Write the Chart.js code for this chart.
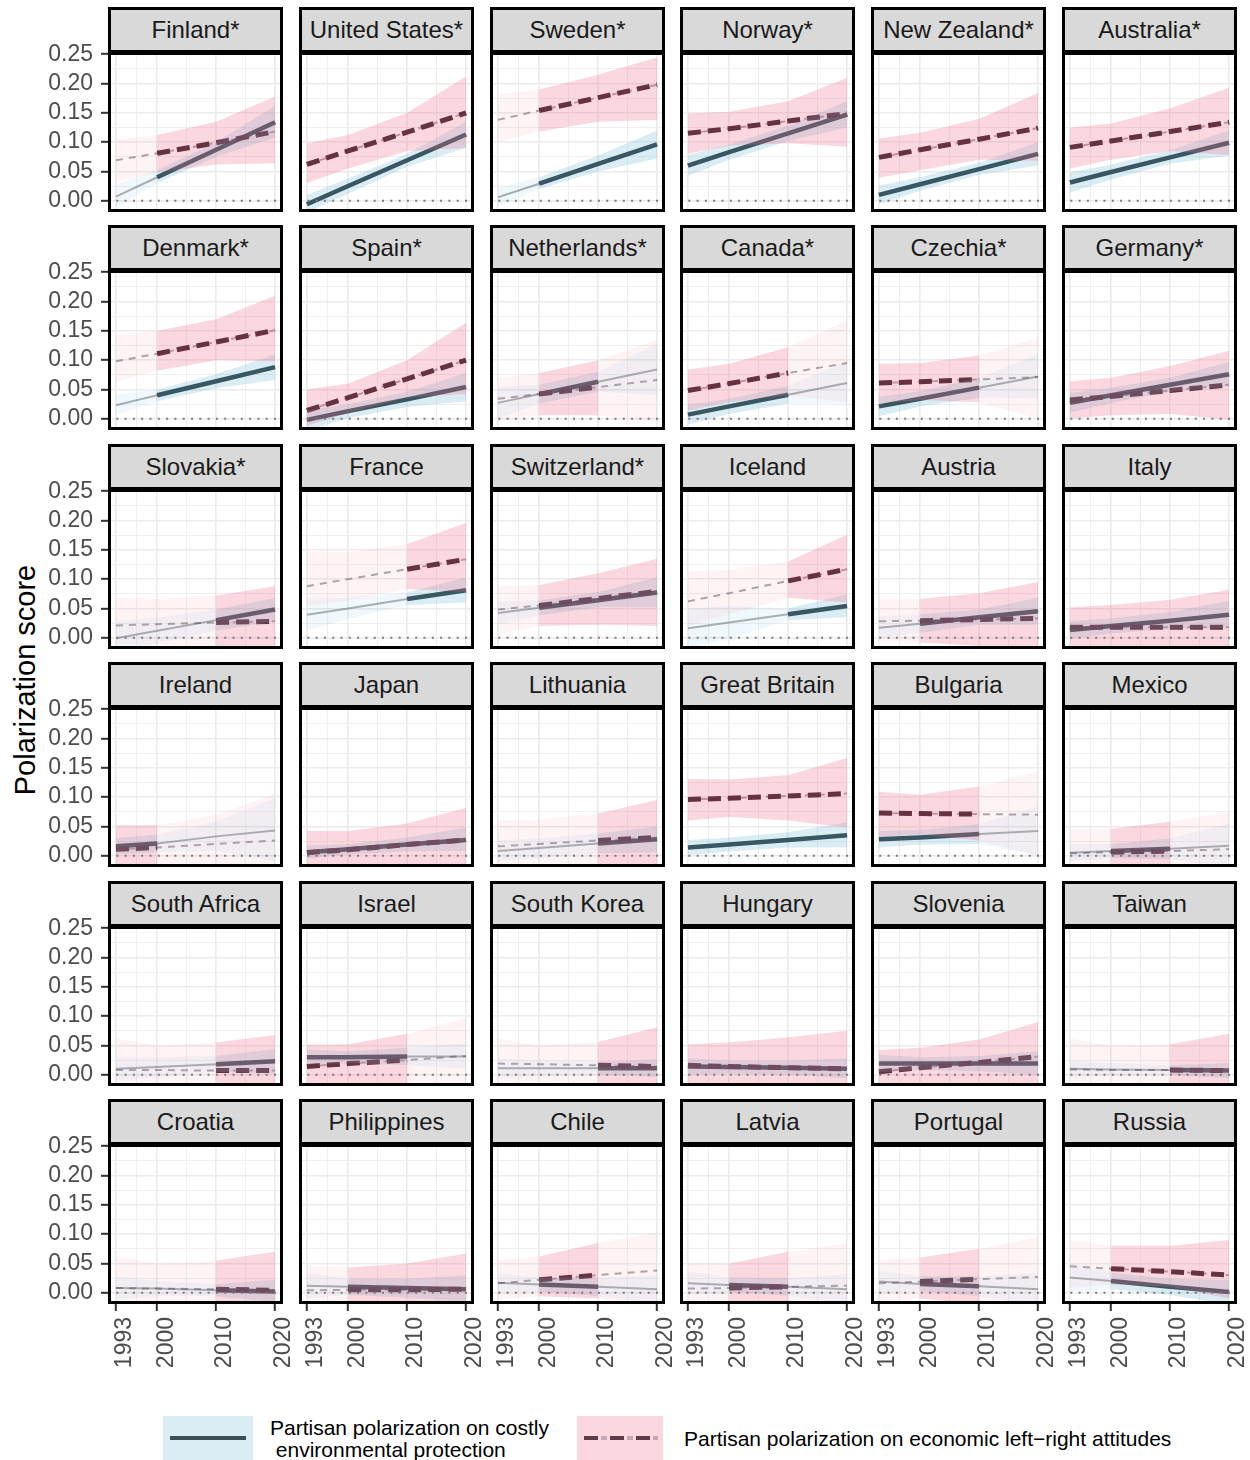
<!DOCTYPE html>
<html><head><meta charset="utf-8">
<script src="https://cdn.jsdelivr.net/npm/chart.js@4.4.1/dist/chart.umd.min.js"></script>
<style>
html,body{margin:0;padding:0;background:#fff;}
body{width:1250px;height:1460px;position:relative;overflow:hidden;font-family:"Liberation Sans",Arial,sans-serif;}
.strip{position:absolute;box-sizing:border-box;background:#d9d9d9;border:3px solid #000;color:#1a1a1a;font-size:24px;display:flex;align-items:center;justify-content:center;white-space:nowrap;}
canvas.cv{position:absolute;}
.ytitle{position:absolute;left:25px;top:680px;transform:translate(-50%,-50%) rotate(-90deg);font-size:29px;color:#000;white-space:nowrap;}
.key{position:absolute;}
.ltext{position:absolute;font-size:21px;color:#000;white-space:pre;line-height:22px;}
</style></head><body>
<div class="ytitle">Polarization score</div>
<script>
const COUNTRIES = ["Finland*","United States*","Sweden*","Norway*","New Zealand*","Australia*",
"Denmark*","Spain*","Netherlands*","Canada*","Czechia*","Germany*",
"Slovakia*","France","Switzerland*","Iceland","Austria","Italy",
"Ireland","Japan","Lithuania","Great Britain","Bulgaria","Mexico",
"South Africa","Israel","South Korea","Hungary","Slovenia","Taiwan",
"Croatia","Philippines","Chile","Latvia","Portugal","Russia"];

const OBS_START = [2000,1993,2000,1993,1993,1993, 2000,1993,2000,1993,1993,1993,
2010,2010,2000,2010,2000,1993, 1993,1993,2010,1993,1993,2000,
2010,1993,2010,1993,1993,2010, 2010,2000,2000,2000,2000,2000];
const OBS_END = [2020,2020,2020,2020,2020,2020, 2020,2020,2010,2010,2010,2020,
2020,2020,2020,2020,2020,2020, 2000,2020,2020,2020,2010,2010,
2020,2010,2020,2020,2020,2020, 2020,2020,2010,2010,2010,2020];

const YEARS = [1993, 2000, 2010, 2020];

const ENV_FIT = [
[0.007,0.040,0.087,0.134],[-0.006,0.025,0.069,0.113],[0.006,0.029,0.063,0.096],[0.060,0.083,0.115,0.147],[0.010,0.028,0.054,0.080],[0.031,0.049,0.074,0.099],
[0.023,0.040,0.064,0.088],[-0.002,0.013,0.033,0.054],[0.027,0.042,0.063,0.084],[0.007,0.021,0.041,0.061],[0.021,0.034,0.053,0.072],[0.027,0.040,0.058,0.076],
[-0.001,0.012,0.030,0.048],[0.039,0.050,0.066,0.081],[0.042,0.051,0.064,0.077],[0.016,0.026,0.040,0.054],[0.017,0.024,0.035,0.045],[0.013,0.020,0.029,0.039],
[0.016,0.021,0.033,0.043],[0.006,0.011,0.019,0.027],[0.008,0.013,0.021,0.028],[0.014,0.019,0.027,0.035],[0.028,0.031,0.037,0.042],[0.005,0.008,0.012,0.017],
[0.010,0.013,0.018,0.023],[0.030,0.030,0.031,0.031],[0.011,0.011,0.011,0.011],[0.014,0.013,0.012,0.010],[0.019,0.019,0.019,0.019],[0.010,0.009,0.008,0.007],
[0.008,0.007,0.004,0.002],[0.012,0.010,0.008,0.006],[0.017,0.014,0.010,0.006],[0.016,0.013,0.010,0.006],[0.019,0.015,0.011,0.006],[0.026,0.020,0.010,0.001]];
const ENV_LO = [
[-0.012,0.030,0.075,0.108],[-0.020,0.012,0.058,0.090],[-0.010,0.020,0.050,0.072],[0.042,0.070,0.102,0.125],[-0.006,0.017,0.044,0.060],[0.014,0.036,0.063,0.077],
[0.006,0.030,0.052,0.066],[-0.020,0.001,0.020,0.030],[0.000,0.026,0.046,0.040],[-0.010,0.008,0.026,0.025],[0.004,0.021,0.036,0.035],[0.010,0.027,0.046,0.055],
[-0.030,-0.010,0.012,0.028],[0.012,0.032,0.056,0.060],[0.022,0.038,0.052,0.052],[-0.018,-0.002,0.030,0.035],[0.000,0.008,0.022,0.022],[-0.002,0.007,0.015,0.016],
[0.002,0.006,0.008,-0.010],[-0.005,0.002,0.007,0.008],[-0.010,-0.004,0.004,0.006],[0.001,0.007,0.014,0.014],[0.014,0.019,0.020,0.000],[-0.010,-0.004,-0.006,-0.020],
[-0.010,-0.004,0.005,0.002],[0.018,0.020,0.016,0.010],[-0.006,-0.002,0.000,-0.004],[0.000,0.002,0.000,-0.006],[0.004,0.008,0.006,0.000],[-0.004,-0.002,0.000,-0.006],
[-0.012,-0.006,-0.006,-0.016],[-0.010,-0.004,-0.008,-0.016],[0.000,0.002,-0.006,-0.018],[-0.004,0.001,-0.005,-0.020],[0.000,0.003,-0.006,-0.022],[0.002,0.006,-0.004,-0.020]];
const ENV_HI = [
[0.028,0.052,0.100,0.162],[0.010,0.038,0.080,0.135],[0.022,0.040,0.077,0.120],[0.078,0.096,0.128,0.170],[0.026,0.040,0.065,0.100],[0.048,0.062,0.086,0.120],
[0.040,0.050,0.076,0.110],[0.014,0.025,0.046,0.078],[0.054,0.058,0.080,0.128],[0.024,0.034,0.056,0.098],[0.038,0.047,0.070,0.110],[0.044,0.053,0.070,0.097],
[0.028,0.034,0.048,0.068],[0.066,0.068,0.077,0.103],[0.062,0.064,0.078,0.103],[0.050,0.054,0.050,0.074],[0.036,0.040,0.048,0.068],[0.028,0.033,0.044,0.063],
[0.030,0.036,0.058,0.098],[0.017,0.020,0.031,0.048],[0.026,0.030,0.038,0.050],[0.027,0.031,0.040,0.057],[0.042,0.044,0.054,0.084],[0.020,0.020,0.030,0.055],
[0.030,0.030,0.032,0.044],[0.043,0.040,0.046,0.054],[0.028,0.024,0.022,0.026],[0.028,0.024,0.024,0.028],[0.034,0.030,0.032,0.040],[0.024,0.020,0.016,0.020],
[0.028,0.020,0.015,0.022],[0.034,0.024,0.024,0.030],[0.034,0.026,0.026,0.030],[0.036,0.026,0.025,0.032],[0.038,0.028,0.028,0.034],[0.050,0.034,0.024,0.022]];

const ECO_FIT = [
[0.069,0.081,0.099,0.118],[0.062,0.085,0.117,0.150],[0.138,0.154,0.176,0.198],[0.115,0.123,0.136,0.149],[0.074,0.087,0.105,0.124],[0.091,0.102,0.118,0.134],
[0.098,0.111,0.131,0.151],[0.014,0.036,0.068,0.100],[0.034,0.042,0.054,0.066],[0.048,0.060,0.078,0.095],[0.061,0.063,0.067,0.071],[0.032,0.038,0.048,0.058],
[0.021,0.023,0.026,0.028],[0.088,0.100,0.117,0.134],[0.048,0.055,0.067,0.079],[0.062,0.076,0.097,0.117],[0.028,0.029,0.031,0.033],[0.018,0.018,0.018,0.018],
[0.011,0.014,0.020,0.026],[0.005,0.010,0.019,0.027],[0.016,0.020,0.026,0.031],[0.096,0.098,0.102,0.106],[0.073,0.072,0.071,0.070],[0.004,0.006,0.008,0.011],
[0.008,0.008,0.007,0.007],[0.014,0.019,0.025,0.032],[0.019,0.018,0.016,0.014],[0.016,0.014,0.012,0.010],[0.005,0.012,0.021,0.031],[0.009,0.008,0.008,0.007],
[0.008,0.007,0.006,0.004],[0.004,0.005,0.005,0.006],[0.016,0.022,0.030,0.038],[0.007,0.008,0.010,0.012],[0.016,0.019,0.023,0.027],[0.045,0.041,0.036,0.030]];
const ECO_LO = [
[0.032,0.048,0.062,0.064],[0.030,0.055,0.085,0.090],[0.100,0.118,0.135,0.138],[0.080,0.094,0.098,0.092],[0.039,0.052,0.070,0.068],[0.055,0.070,0.085,0.078],
[0.063,0.082,0.100,0.098],[-0.012,0.010,0.036,0.042],[-0.004,0.006,0.006,-0.006],[0.014,0.028,0.040,0.028],[0.026,0.032,0.028,0.000],[0.000,0.006,0.008,-0.002],
[-0.012,-0.012,-0.018,-0.025],[0.054,0.064,0.083,0.078],[0.006,0.020,0.022,0.020],[0.020,0.040,0.068,0.060],[-0.006,-0.008,-0.014,-0.022],[-0.014,-0.014,-0.016,-0.022],
[-0.020,-0.020,-0.028,-0.035],[-0.020,-0.018,-0.018,-0.020],[-0.016,-0.012,-0.016,-0.030],[0.060,0.066,0.060,0.048],[0.032,0.036,0.026,0.000],[-0.030,-0.025,-0.025,-0.035],
[-0.030,-0.020,-0.020,-0.040],[-0.030,-0.018,-0.024,-0.040],[-0.020,-0.012,-0.020,-0.040],[-0.016,-0.014,-0.020,-0.030],[-0.020,-0.014,-0.020,-0.030],[-0.025,-0.020,-0.020,-0.030],
[-0.030,-0.020,-0.020,-0.040],[-0.030,-0.020,-0.025,-0.040],[-0.012,-0.006,-0.010,-0.040],[-0.025,-0.020,-0.025,-0.040],[-0.015,-0.010,-0.020,-0.040],[0.008,0.014,0.010,-0.010]];
const ECO_HI = [
[0.105,0.112,0.135,0.178],[0.098,0.112,0.150,0.212],[0.182,0.190,0.215,0.245],[0.149,0.152,0.170,0.210],[0.106,0.116,0.140,0.184],[0.125,0.132,0.158,0.193],
[0.143,0.150,0.170,0.210],[0.050,0.060,0.100,0.164],[0.070,0.078,0.100,0.135],[0.084,0.094,0.122,0.168],[0.094,0.095,0.108,0.138],[0.064,0.070,0.090,0.116],
[0.068,0.066,0.072,0.088],[0.148,0.146,0.160,0.196],[0.088,0.090,0.110,0.135],[0.113,0.116,0.130,0.176],[0.066,0.066,0.076,0.095],[0.052,0.056,0.065,0.082],
[0.052,0.052,0.070,0.105],[0.042,0.042,0.055,0.082],[0.060,0.062,0.072,0.095],[0.131,0.130,0.138,0.167],[0.109,0.104,0.118,0.144],[0.045,0.046,0.058,0.075],
[0.062,0.050,0.055,0.068],[0.051,0.052,0.070,0.097],[0.062,0.050,0.056,0.081],[0.052,0.055,0.064,0.075],[0.042,0.046,0.060,0.090],[0.062,0.050,0.052,0.070],
[0.062,0.050,0.055,0.070],[0.047,0.043,0.050,0.067],[0.055,0.062,0.085,0.103],[0.050,0.050,0.070,0.085],[0.055,0.060,0.075,0.095],[0.090,0.080,0.080,0.090]];

const X_MAJOR = [1993, 2000, 2010, 2020];
const X_MINOR = [1996.5, 2005, 2015];
const Y_MAJOR = [0, 0.05, 0.10, 0.15, 0.20, 0.25];
const Y_MINOR = [0.025, 0.075, 0.125, 0.175, 0.225];
const X_MIN = 1991.65, X_MAX = 2021.35;
const Y_MIN = -0.0193, Y_MAX = 0.2539;
const ZERO_LINE = 0;

const LEGEND_LABELS = ["Partisan polarization on costly\n environmental protection",
                       "Partisan polarization on economic left\u2212right attitudes"];

// styles
const FONT = "'Liberation Sans', Arial, sans-serif";
const ENV_COLOR = '#2b3a40', ENV_FADED = 'rgba(43,58,64,0.4)';
const ECO_COLOR = '#321c26', ECO_FADED = 'rgba(50,28,38,0.4)';
const BLUE_STRONG = 'rgba(100,180,210,0.24)', BLUE_FAINT = 'rgba(100,180,210,0.09)';
const PINK_STRONG = 'rgba(240,110,140,0.27)', PINK_FAINT = 'rgba(240,110,140,0.08)';
const GRID = '#ebebeb';
const NONE = 'rgba(0,0,0,0)';

const borderPlugin = {
  id: 'panelBorder',
  afterDraw(chart) {
    const {ctx, chartArea: a} = chart;
    ctx.save();
    ctx.strokeStyle = '#000'; ctx.lineWidth = 3;
    ctx.strokeRect(a.left + 1.5, a.top + 1.5, a.right - a.left - 3, a.bottom - a.top - 3);
    ctx.restore();
  }
};

const pts = arr => YEARS.map((yr, k) => ({x: yr, y: arr[k]}));
const M = 32, PW = 175, PH = 160;

COUNTRIES.forEach((name, i) => {
  const r = Math.floor(i / 6), c = i % 6;
  const left = c === 0, bottom = r === 5;
  const axisW = left ? 100 : 0, axisH = bottom ? 76 : 0;
  const areaL = Math.round(108 + c * 190.8), areaT = Math.round(52 + r * 218.4);

  const strip = document.createElement('div');
  strip.className = 'strip';
  strip.style.left = areaL + 'px'; strip.style.top = (areaT - 45) + 'px';
  strip.style.width = PW + 'px'; strip.style.height = '46px';
  strip.textContent = name;
  document.body.appendChild(strip);

  const cv = document.createElement('canvas');
  cv.className = 'cv';
  const W = PW + axisW + 2 * M, H = PH + axisH + 2 * M;
  cv.width = W; cv.height = H;
  cv.style.width = W + 'px'; cv.style.height = H + 'px';
  cv.style.left = (areaL - axisW - M) + 'px'; cv.style.top = (areaT - M) + 'px';
  document.body.appendChild(cv);

  const obs = sc => YEARS[sc.p0DataIndex] >= OBS_START[i] && YEARS[sc.p1DataIndex] <= OBS_END[i];
  const base = {pointRadius: 0, pointHoverRadius: 0, tension: 0, fill: false};

  const datasets = [
    {...base, data: pts(ENV_FIT[i]), borderColor: ENV_FADED, borderWidth: 2, order: 9},
    {...base, data: pts(ECO_FIT[i]), borderColor: ECO_FADED, borderWidth: 2, borderDash: [7, 6], order: 8},
    {...base, data: pts(ENV_FIT[i]), borderColor: ENV_COLOR, borderWidth: 4.5,
      segment: {borderColor: sc => obs(sc) ? ENV_COLOR : NONE}, order: 7},
    {...base, data: pts(ECO_FIT[i]), borderColor: ECO_COLOR, borderWidth: 5, borderDash: [13, 7],
      segment: {borderColor: sc => obs(sc) ? ECO_COLOR : NONE}, order: 6},
    {...base, data: pts(ENV_LO[i]), borderWidth: 0, borderColor: NONE, order: 5},
    {...base, data: pts(ENV_HI[i]), borderWidth: 0, borderColor: NONE, fill: '-1', backgroundColor: BLUE_FAINT,
      segment: {backgroundColor: sc => obs(sc) ? BLUE_STRONG : BLUE_FAINT}, order: 4},
    {...base, data: pts(ECO_LO[i]), borderWidth: 0, borderColor: NONE, order: 3},
    {...base, data: pts(ECO_HI[i]), borderWidth: 0, borderColor: NONE, fill: '-1', backgroundColor: PINK_FAINT,
      segment: {backgroundColor: sc => obs(sc) ? PINK_STRONG : PINK_FAINT}, order: 2},
    {...base, data: [{x: X_MIN, y: ZERO_LINE}, {x: X_MAX, y: ZERO_LINE}], borderColor: '#7a7a7a',
      borderWidth: 2, borderDash: [2, 6.3], order: 1}
  ];

  const xAll = [...X_MAJOR, ...X_MINOR].sort((a, b) => a - b);
  const yAll = [...Y_MAJOR, ...Y_MINOR].sort((a, b) => a - b);

  new Chart(cv, {
    type: 'line',
    data: {datasets},
    plugins: [borderPlugin],
    options: {
      responsive: false, animation: false, events: [], devicePixelRatio: 1,
      layout: {padding: M},
      plugins: {legend: {display: false}, tooltip: {enabled: false}},
      scales: {
        x: {
          type: 'linear', min: X_MIN, max: X_MAX,
          afterBuildTicks: s => { s.ticks = xAll.map(v => ({value: v})); },
          afterFit: s => { s.height = axisH; },
          border: {display: false},
          grid: {
            color: GRID,
            lineWidth: ctx => X_MAJOR.includes(ctx.tick && ctx.tick.value) ? 1.6 : 0.8,
            drawTicks: bottom, tickLength: 7, tickWidth: 2,
            tickColor: ctx => X_MAJOR.includes(ctx.tick && ctx.tick.value) ? '#333333' : NONE
          },
          ticks: {
            display: bottom, autoSkip: false, minRotation: 90, maxRotation: 90, padding: 6,
            labelOffset: 9,
            color: '#4d4d4d', font: {family: FONT, size: 23},
            callback: v => X_MAJOR.includes(v) ? String(v) : ''
          }
        },
        y: {
          type: 'linear', min: Y_MIN, max: Y_MAX,
          afterBuildTicks: s => { s.ticks = yAll.map(v => ({value: v})); },
          afterFit: s => { s.width = axisW; },
          border: {display: false},
          grid: {
            color: GRID,
            lineWidth: ctx => Y_MAJOR.includes(ctx.tick && ctx.tick.value) ? 1.6 : 0.8,
            drawTicks: left, tickLength: 7, tickWidth: 2,
            tickColor: ctx => Y_MAJOR.includes(ctx.tick && ctx.tick.value) ? '#333333' : NONE
          },
          ticks: {
            display: left, autoSkip: false, padding: 8,
            color: '#4d4d4d', font: {family: FONT, size: 23},
            callback: v => Y_MAJOR.includes(v) ? v.toFixed(2) : ''
          }
        }
      }
    }
  });
});

// Legend
function addDiv(cls, styles, text) {
  const d = document.createElement('div');
  d.className = cls;
  Object.assign(d.style, styles);
  if (text !== undefined) d.textContent = text;
  document.body.appendChild(d);
  return d;
}
addDiv('key', {left: '163px', top: '1416px', width: '90px', height: '44px', background: BLUE_STRONG});
addDiv('key', {left: '170px', top: '1436px', width: '76px', height: '4px', background: '#3c4d54'});
addDiv('ltext', {left: '270px', top: '1417px'}, LEGEND_LABELS[0]);
addDiv('key', {left: '577px', top: '1416px', width: '86px', height: '44px', background: PINK_STRONG});
addDiv('key', {left: '584px', top: '1436px', width: '74px', height: '4px',
  background: 'repeating-linear-gradient(90deg, #5e3c4a 0px, #5e3c4a 14px, transparent 14px, transparent 17px, #c4a9b3 17px, #c4a9b3 23px, transparent 23px, transparent 26px)'});
addDiv('ltext', {left: '684px', top: '1428px'}, LEGEND_LABELS[1]);
</script>
</body></html>
